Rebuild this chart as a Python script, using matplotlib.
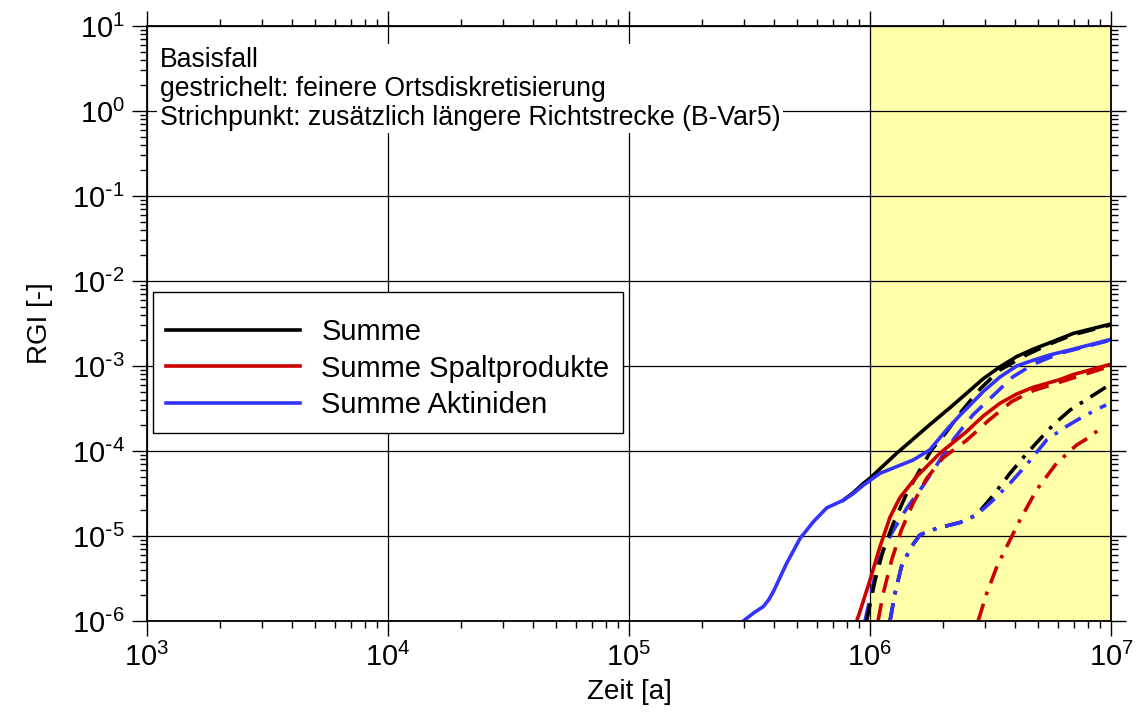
import matplotlib
matplotlib.use("Agg")
import matplotlib.pyplot as plt
import numpy as np
from matplotlib.ticker import LogLocator, NullFormatter, FuncFormatter

plt.rcParams['font.family'] = ['Liberation Sans', 'DejaVu Sans']
plt.rcParams['mathtext.default'] = 'regular'

# Basisfall - Summe (Zeit in Jahren, RGI)
t_summe = [7.74e5, 8.53e5, 9.40e5, 1.0e6, 1.29e6, 1.51e6, 1.77e6, 2.15e6, 2.52e6,
           2.95e6, 3.46e6, 4.06e6, 4.76e6, 5.58e6, 6.98e6, 1.0e7]
rgi_summe = [2.63e-5, 3.24e-5, 4.17e-5, 4.79e-5, 9.40e-5, 1.38e-4, 2.04e-4, 3.24e-4, 4.79e-4,
             7.08e-4, 9.77e-4, 1.29e-3, 1.58e-3, 1.88e-3, 2.42e-3, 3.12e-3]

# Basisfall - Summe Spaltprodukte
t_spalt = [8.81e5, 9.10e5, 1.0e6, 1.10e6, 1.21e6, 1.33e6, 1.56e6, 1.95e6, 2.52e6,
           2.95e6, 3.46e6, 4.06e6, 4.76e6, 6.14e6, 6.98e6, 1.0e7]
rgi_spalt = [1.0e-6, 1.31e-6, 3.03e-6, 7.48e-6, 1.66e-5, 2.82e-5, 4.99e-5, 9.40e-5, 1.70e-4,
             2.58e-4, 3.64e-4, 4.68e-4, 5.62e-4, 6.92e-4, 7.94e-4, 1.05e-3]

# Basisfall - Summe Aktiniden
t_akt = [2.98e5, 3.31e5, 3.61e5, 3.80e5, 3.97e5, 4.51e5, 5.13e5, 5.82e5, 6.61e5, 7.74e5,
         8.53e5, 9.40e5, 1.10e6, 1.29e6, 1.51e6, 1.77e6, 2.08e6, 2.36e6, 2.52e6, 2.95e6,
         3.46e6, 4.06e6, 4.76e6, 5.58e6, 6.98e6, 1.0e7]
rgi_akt = [1.0e-6, 1.26e-6, 1.48e-6, 1.78e-6, 2.21e-6, 4.78e-6, 9.40e-6, 1.47e-5, 2.14e-5, 2.63e-5,
           3.16e-5, 3.98e-5, 5.46e-5, 6.55e-5, 7.83e-5, 1.03e-4, 1.78e-4, 2.63e-4, 3.16e-4, 5.01e-4,
           7.41e-4, 1.0e-3, 1.17e-3, 1.35e-3, 1.58e-3, 2.06e-3]

# gestrichelt: feinere Ortsdiskretisierung
t_summe_fein = [9.68e5, 1.05e6, 1.135e6, 1.25e6, 1.42e6, 1.61e6, 1.80e6, 2.05e6, 2.42e6,
                2.88e6, 3.46e6, 4.45e6, 5.58e6, 6.98e6, 1.0e7]
rgi_summe_fein = [1.0e-6, 3.03e-6, 6.84e-6, 1.41e-5, 3.18e-5, 5.97e-5, 1.03e-4, 1.60e-4, 3.03e-4,
                  5.46e-4, 8.97e-4, 1.35e-3, 1.82e-3, 2.34e-3, 3.05e-3]

t_spalt_fein = [1.08e6, 1.135e6, 1.23e6, 1.35e6, 1.51e6, 1.72e6, 2.01e6, 2.52e6, 3.10e6,
                3.86e6, 4.76e6, 6.14e6, 1.0e7]
rgi_spalt_fein = [1.0e-6, 2.12e-6, 5.22e-6, 1.18e-5, 2.43e-5, 4.78e-5, 8.32e-5, 1.34e-4, 2.28e-4,
                  3.80e-4, 5.13e-4, 6.46e-4, 1.0e-3]

t_akt_fein = [9.53e5, 1.08e6, 1.23e6, 1.42e6, 1.65e6, 1.96e6, 2.25e6, 2.67e6, 3.23e6,
              3.91e6, 4.76e6, 6.14e6, 1.0e7]
rgi_akt_fein = [1.0e-6, 4.99e-6, 1.08e-5, 2.12e-5, 3.80e-5, 7.98e-5, 1.44e-4, 2.65e-4, 4.44e-4,
                7.43e-4, 1.05e-3, 1.41e-3, 2.02e-3]

# Strichpunkt: zusaetzlich laengere Richtstrecke (B-Var5)
t_summe_var5 = [1.21e6, 1.27e6, 1.35e6, 1.47e6, 1.61e6, 1.89e6, 2.36e6, 2.77e6, 3.25e6,
                3.81e6, 4.47e6, 5.07e6, 5.77e6, 6.76e6, 8.18e6, 9.59e6]
rgi_summe_var5 = [1.0e-6, 2.12e-6, 4.36e-6, 7.16e-6, 1.03e-5, 1.23e-5, 1.44e-5, 1.77e-5, 3.03e-5,
                  5.46e-5, 9.33e-5, 1.38e-4, 2.04e-4, 3.03e-4, 4.28e-4, 5.71e-4]

t_spalt_var5 = [2.81e6, 3.05e6, 3.36e6, 3.69e6, 4.19e6, 4.91e6, 5.94e6, 7.19e6, 8.18e6, 9.29e6]
rgi_spalt_var5 = [1.0e-6, 2.12e-6, 4.36e-6, 7.48e-6, 1.54e-5, 3.48e-5, 7.16e-5, 1.17e-4, 1.47e-4, 1.97e-4]

t_akt_var5 = [1.21e6, 1.27e6, 1.35e6, 1.47e6, 1.61e6, 1.89e6, 2.36e6, 2.77e6, 3.25e6,
              3.81e6, 4.47e6, 5.41e6, 6.44e6, 7.33e6, 8.73e6, 9.55e6]
rgi_akt_var5 = [1.0e-6, 2.12e-6, 4.36e-6, 7.16e-6, 1.03e-5, 1.23e-5, 1.44e-5, 1.77e-5, 2.65e-5,
                4.17e-5, 6.92e-5, 1.35e-4, 1.90e-4, 2.36e-4, 3.09e-4, 3.48e-4]

black = 'black'
red = '#cc0000'
blue = '#3333ff'
lw = 2.6
dashed = (0, (5, 3))
dashdot = (0, (5, 2.5, 1, 2.5))


def pow10_label(val, pos):
    # short hyphen in the exponent, like the original plot
    e = int(round(np.log10(val)))
    if e < 0:
        return r'$10^{\text{-}%d}$' % (-e)
    return r'$10^{%d}$' % e


fig = plt.figure(figsize=(11.37, 7.13), dpi=100)
ax = fig.add_axes([147 / 1137, 1 - 621 / 713, 964 / 1137, 595 / 713])

ax.axvspan(1e6, 1e7, color='#ffffaa', zorder=0, linewidth=0)

# Strichpunkt
ax.plot(t_summe_var5, rgi_summe_var5, color=black, lw=lw, ls=dashdot)
ax.plot(t_akt_var5, rgi_akt_var5, color=blue, lw=lw, ls=dashdot)
ax.plot(t_spalt_var5, rgi_spalt_var5, color=red, lw=lw, ls=dashdot)
# gestrichelt
ax.plot(t_akt_fein, rgi_akt_fein, color=blue, lw=lw, ls=dashed)
ax.plot(t_summe_fein, rgi_summe_fein, color=black, lw=lw, ls=dashed)
ax.plot(t_spalt_fein, rgi_spalt_fein, color=red, lw=lw, ls=dashed)
# Basisfall
l1, = ax.plot(t_summe, rgi_summe, color=black, lw=lw, label='Summe')
l2, = ax.plot(t_spalt, rgi_spalt, color=red, lw=lw, label='Summe Spaltprodukte')
l3, = ax.plot(t_akt, rgi_akt, color=blue, lw=lw, label='Summe Aktiniden')

ax.set_xscale('log')
ax.set_yscale('log')
ax.set_xlim(1e3, 1e7)
ax.set_ylim(1e-6, 1e1)

for axis in (ax.xaxis, ax.yaxis):
    axis.set_major_locator(LogLocator(base=10, numticks=20))
    axis.set_major_formatter(FuncFormatter(pow10_label))
    axis.set_minor_locator(LogLocator(base=10, subs=range(2, 10), numticks=100))
    axis.set_minor_formatter(NullFormatter())
    axis.get_offset_text().set_visible(False)

ax.tick_params(which='both', direction='out', top=True, right=True, width=1, colors='black')
ax.tick_params(which='major', length=11, labelsize=21, pad=5)
ax.tick_params(which='minor', length=5)

ax.set_axisbelow(True)
ax.grid(which='major', color='black', linewidth=0.9)
for sp in ax.spines.values():
    sp.set_linewidth(1.3)

ax.set_xlabel('Zeit [a]', fontsize=20, labelpad=5)
ax.set_ylabel('RGI [-]', fontsize=20, labelpad=14)

ax.text(0.0135, 0.965,
        'Basisfall\ngestrichelt: feinere Ortsdiskretisierung\n'
        'Strichpunkt: zusätzlich längere Richtstrecke (B-Var5)',
        transform=ax.transAxes, ha='left', va='top', fontsize=19.2, linespacing=1.15,
        bbox=dict(facecolor='white', edgecolor='none', pad=2), zorder=5)

leg = fig.legend(handles=[l1, l2, l3], loc='upper left',
                 bbox_to_anchor=(153 / 1137, 1 - 292 / 713), fontsize=21,
                 title=' ', title_fontsize=2,
                 frameon=True, fancybox=False, shadow=False, framealpha=1,
                 edgecolor='black', handlelength=4.6, handletextpad=0.72,
                 labelspacing=0.3, borderpad=0.45, borderaxespad=0)
leg.get_frame().set_linewidth(1.0)

plt.savefig('out.png', dpi=100)
plt.close()
